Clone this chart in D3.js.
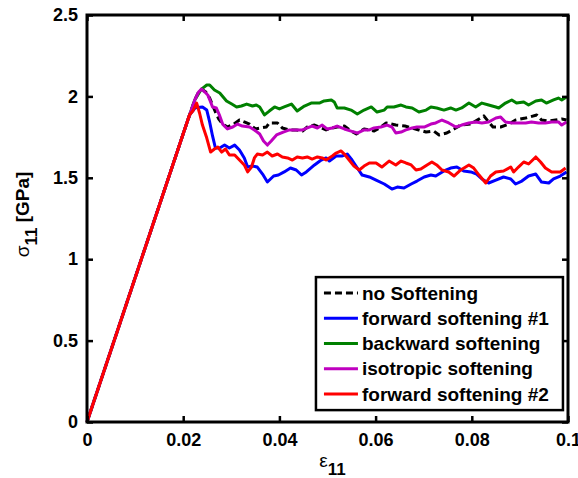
<!DOCTYPE html>
<html>
<head>
<meta charset="utf-8">
<script src="https://cdn.jsdelivr.net/npm/d3@7"></script>
<style>
  body { margin: 0; background: #fff; }
  svg text { font-family: "Liberation Sans", Arial, Helvetica, sans-serif; }
</style>
</head>
<body>
<svg id="canvas" width="578" height="478"></svg>
<script>
// strain / stress pairs [eps11, sigma11 (GPa)]
const noSoftening = [
  [0, 0], [0.0200, 1.770], [0.0224, 1.978], [0.0232, 2.027], [0.0238, 2.045], [0.0247, 2.027],
  [0.0255, 1.990], [0.0261, 1.947], [0.0267, 1.904], [0.0274, 1.861], [0.0282, 1.830],
  [0.0292, 1.812], [0.0305, 1.830], [0.0317, 1.855], [0.0327, 1.843], [0.0338, 1.830],
  [0.0350, 1.800], [0.0361, 1.806], [0.0373, 1.812], [0.0379, 1.837], [0.0396, 1.837],
  [0.0406, 1.806], [0.0421, 1.794], [0.0435, 1.794], [0.0448, 1.787], [0.0458, 1.812],
  [0.0473, 1.824], [0.0483, 1.812], [0.0497, 1.794], [0.0510, 1.806], [0.0520, 1.812],
  [0.0535, 1.818], [0.0549, 1.787], [0.0560, 1.769], [0.0576, 1.800], [0.0597, 1.787],
  [0.0611, 1.812], [0.0622, 1.837], [0.0642, 1.824], [0.0661, 1.818], [0.0676, 1.806],
  [0.0690, 1.794], [0.0705, 1.781], [0.0721, 1.787], [0.0732, 1.763], [0.0748, 1.775],
  [0.0763, 1.800], [0.0777, 1.824], [0.0798, 1.830], [0.0815, 1.861], [0.0825, 1.880],
  [0.0835, 1.843], [0.0844, 1.812], [0.0860, 1.812], [0.0877, 1.830], [0.0891, 1.855],
  [0.0912, 1.867], [0.0935, 1.886], [0.0945, 1.855], [0.0960, 1.849], [0.0974, 1.855],
  [0.0987, 1.861], [0.0997, 1.855]
];

const forwardSoftening1 = [
  [0, 0], [0.0200, 1.770], [0.0213, 1.886], [0.0225, 1.930], [0.0240, 1.935], [0.0249, 1.916],
  [0.0255, 1.843], [0.0261, 1.757], [0.0267, 1.683], [0.0276, 1.683], [0.0286, 1.701],
  [0.0296, 1.683], [0.0307, 1.701], [0.0317, 1.671], [0.0327, 1.622], [0.0334, 1.566],
  [0.0344, 1.572], [0.0354, 1.566], [0.0365, 1.523], [0.0375, 1.474], [0.0388, 1.511],
  [0.0398, 1.517], [0.0410, 1.536], [0.0423, 1.560], [0.0435, 1.548], [0.0446, 1.517],
  [0.0456, 1.536], [0.0473, 1.579], [0.0487, 1.609], [0.0497, 1.622], [0.0504, 1.603],
  [0.0518, 1.634], [0.0531, 1.634], [0.0541, 1.646], [0.0551, 1.609], [0.0562, 1.560],
  [0.0572, 1.517], [0.0587, 1.505], [0.0601, 1.486], [0.0618, 1.462], [0.0634, 1.431],
  [0.0645, 1.443], [0.0659, 1.437], [0.0674, 1.462], [0.0686, 1.480], [0.0701, 1.505],
  [0.0715, 1.517], [0.0725, 1.511], [0.0742, 1.542], [0.0756, 1.560], [0.0769, 1.566],
  [0.0783, 1.542], [0.0798, 1.536], [0.0810, 1.523], [0.0821, 1.493], [0.0835, 1.468],
  [0.0850, 1.486], [0.0866, 1.505], [0.0881, 1.493], [0.0891, 1.462], [0.0904, 1.480],
  [0.0918, 1.511], [0.0933, 1.523], [0.0945, 1.474], [0.0960, 1.468], [0.0970, 1.493],
  [0.0984, 1.511], [0.0997, 1.536]
];

const backwardSoftening = [
  [0, 0], [0.0200, 1.770], [0.0224, 1.978], [0.0238, 2.045], [0.0249, 2.070], [0.0255, 2.070],
  [0.0265, 2.039], [0.0276, 2.021], [0.0290, 1.972], [0.0301, 1.953], [0.0311, 1.935],
  [0.0321, 1.941], [0.0332, 1.953], [0.0344, 1.941], [0.0352, 1.947], [0.0359, 1.935],
  [0.0369, 1.886], [0.0379, 1.910], [0.0390, 1.935], [0.0400, 1.923], [0.0410, 1.935],
  [0.0425, 1.953], [0.0437, 1.910], [0.0452, 1.941], [0.0466, 1.959], [0.0483, 1.959],
  [0.0493, 1.972], [0.0508, 1.978], [0.0514, 1.966], [0.0520, 1.929], [0.0535, 1.929],
  [0.0549, 1.916], [0.0562, 1.892], [0.0576, 1.916], [0.0591, 1.935], [0.0603, 1.904],
  [0.0618, 1.916], [0.0624, 1.935], [0.0638, 1.935], [0.0653, 1.947], [0.0663, 1.935],
  [0.0676, 1.929], [0.0690, 1.904], [0.0705, 1.916], [0.0715, 1.935], [0.0727, 1.929],
  [0.0742, 1.916], [0.0756, 1.929], [0.0767, 1.916], [0.0779, 1.929], [0.0794, 1.959],
  [0.0808, 1.935], [0.0821, 1.959], [0.0835, 1.947], [0.0850, 1.935], [0.0856, 1.929],
  [0.0870, 1.959], [0.0883, 1.978], [0.0893, 1.959], [0.0908, 1.966], [0.0918, 1.947],
  [0.0933, 1.972], [0.0945, 1.978], [0.0955, 1.959], [0.0970, 1.978], [0.0980, 1.990],
  [0.0987, 1.978], [0.0997, 1.996]
];

const isotropicSoftening = [
  [0, 0], [0.0200, 1.770], [0.0224, 1.978], [0.0232, 2.027], [0.0238, 2.045], [0.0245, 2.027],
  [0.0251, 2.009], [0.0257, 1.966], [0.0261, 1.935], [0.0269, 1.929], [0.0276, 1.880],
  [0.0282, 1.830], [0.0292, 1.800], [0.0303, 1.812], [0.0313, 1.830], [0.0323, 1.818],
  [0.0338, 1.812], [0.0348, 1.794], [0.0359, 1.769], [0.0367, 1.726], [0.0375, 1.701],
  [0.0383, 1.726], [0.0394, 1.763], [0.0408, 1.781], [0.0421, 1.794], [0.0435, 1.794],
  [0.0448, 1.794], [0.0458, 1.806], [0.0468, 1.818], [0.0479, 1.806], [0.0489, 1.824],
  [0.0499, 1.800], [0.0510, 1.806], [0.0520, 1.818], [0.0535, 1.800], [0.0549, 1.787],
  [0.0562, 1.775], [0.0576, 1.794], [0.0587, 1.794], [0.0597, 1.806], [0.0611, 1.812],
  [0.0624, 1.824], [0.0634, 1.812], [0.0642, 1.775], [0.0653, 1.781], [0.0663, 1.794],
  [0.0676, 1.806], [0.0686, 1.812], [0.0701, 1.812], [0.0715, 1.830], [0.0725, 1.837],
  [0.0738, 1.855], [0.0752, 1.837], [0.0767, 1.812], [0.0779, 1.824], [0.0794, 1.837],
  [0.0808, 1.843], [0.0821, 1.837], [0.0835, 1.843], [0.0850, 1.867], [0.0860, 1.873],
  [0.0870, 1.843], [0.0883, 1.837], [0.0897, 1.837], [0.0912, 1.837], [0.0924, 1.843],
  [0.0939, 1.837], [0.0953, 1.837], [0.0966, 1.843], [0.0980, 1.843], [0.0987, 1.824],
  [0.0997, 1.843]
];

const forwardSoftening2 = [
  [0, 0], [0.0200, 1.770], [0.0213, 1.886], [0.0220, 1.910], [0.0228, 1.959], [0.0234, 1.898],
  [0.0240, 1.824], [0.0249, 1.744], [0.0257, 1.658], [0.0265, 1.677], [0.0272, 1.689],
  [0.0280, 1.658], [0.0288, 1.677], [0.0296, 1.640], [0.0307, 1.640], [0.0317, 1.609],
  [0.0327, 1.579], [0.0334, 1.536], [0.0342, 1.566], [0.0348, 1.622], [0.0354, 1.646],
  [0.0365, 1.640], [0.0375, 1.658], [0.0385, 1.634], [0.0396, 1.646], [0.0406, 1.628],
  [0.0417, 1.622], [0.0427, 1.609], [0.0437, 1.628], [0.0448, 1.622], [0.0458, 1.628],
  [0.0468, 1.615], [0.0479, 1.628], [0.0489, 1.622], [0.0497, 1.609], [0.0510, 1.634],
  [0.0518, 1.652], [0.0528, 1.665], [0.0535, 1.646], [0.0545, 1.609], [0.0555, 1.572],
  [0.0566, 1.548], [0.0576, 1.572], [0.0587, 1.591], [0.0601, 1.591], [0.0613, 1.566],
  [0.0628, 1.603], [0.0642, 1.579], [0.0653, 1.603], [0.0663, 1.591], [0.0674, 1.579],
  [0.0684, 1.548], [0.0694, 1.554], [0.0707, 1.579], [0.0717, 1.597], [0.0727, 1.579],
  [0.0738, 1.548], [0.0752, 1.536], [0.0763, 1.511], [0.0777, 1.548], [0.0794, 1.579],
  [0.0804, 1.560], [0.0815, 1.517], [0.0829, 1.468], [0.0839, 1.511], [0.0850, 1.536],
  [0.0866, 1.542], [0.0881, 1.566], [0.0887, 1.536], [0.0897, 1.566], [0.0908, 1.597],
  [0.0918, 1.585], [0.0933, 1.628], [0.0943, 1.597], [0.0953, 1.560], [0.0966, 1.536],
  [0.0984, 1.536], [0.0995, 1.560]
];

const seriesNames = ['no Softening', 'forward softening #1', 'backward softening',
                     'isotropic softening', 'forward softening #2'];
const xTicks = [0, 0.02, 0.04, 0.06, 0.08, 0.1];
const yTicks = [0, 0.5, 1, 1.5, 2, 2.5];

// looks
const colors = ['#000000', '#0000ff', '#008000', '#bf00bf', '#ff0000'];
const dashes = ['7,4', null, null, null, null];

// margins & dimensions
const margin = { top: 15, right: 10, bottom: 56, left: 87 };
const width = 578 - margin.left - margin.right;
const height = 478 - margin.top - margin.bottom;

const svg = d3.select('#canvas')
  .append('g')
    .attr('transform', `translate(${margin.left},${margin.top})`);

const xScale = d3.scaleLinear().domain([0, 0.1]).range([0, width]);
const yScale = d3.scaleLinear().domain([0, 2.5]).range([height, 0]);
const fmt = d => String(d);

// curves (legend order, red ends up on top)
const allSeries = [noSoftening, forwardSoftening1, backwardSoftening,
                   isotropicSoftening, forwardSoftening2];
const lineGen = d3.line()
  .x(d => xScale(d[0]))
  .y(d => yScale(d[1]));

svg.append('g')
  .selectAll('path')
  .data(allSeries)
  .join('path')
    .attr('d', lineGen)
    .attr('fill', 'none')
    .attr('stroke', (d, i) => colors[i])
    .attr('stroke-width', 3)
    .attr('stroke-linejoin', 'round')
    .attr('stroke-dasharray', (d, i) => dashes[i]);

// axes, ticks pointing inward on all four sides
function styleAxis(g) {
  g.select('.domain').remove();
  g.selectAll('line').attr('stroke', '#000').attr('stroke-width', 2.5);
  g.selectAll('text')
    .attr('fill', '#000')
    .style('font-size', '18px')
    .style('font-weight', 'bold');
}

svg.append('g')
  .attr('transform', `translate(0,${height})`)
  .call(d3.axisBottom(xScale).tickValues(xTicks).tickFormat(fmt)
    .tickSizeInner(-6).tickSizeOuter(0).tickPadding(11))
  .call(styleAxis);

svg.append('g')
  .call(d3.axisLeft(yScale).tickValues(yTicks).tickFormat(fmt)
    .tickSizeInner(-6).tickSizeOuter(0).tickPadding(9))
  .call(styleAxis);

svg.append('g')
  .call(d3.axisTop(xScale).tickValues(xTicks).tickFormat('')
    .tickSizeInner(-6).tickSizeOuter(0))
  .call(styleAxis);

svg.append('g')
  .attr('transform', `translate(${width},0)`)
  .call(d3.axisRight(yScale).tickValues(yTicks).tickFormat('')
    .tickSizeInner(-6).tickSizeOuter(0))
  .call(styleAxis);

svg.append('rect')
  .attr('width', width)
  .attr('height', height)
  .attr('fill', 'none')
  .attr('stroke', '#000')
  .attr('stroke-width', 3);

// axis labels
const xLab = svg.append('text')
  .attr('x', width / 2 + 5)
  .attr('y', height + 45)
  .attr('text-anchor', 'middle')
  .style('font-size', '19px');
xLab.append('tspan').text('ε');
xLab.append('tspan').attr('dy', 8).style('font-weight', 'bold').style('font-size', '17px').text('11');

const yLab = svg.append('text')
  .attr('transform', `translate(${-58},${height / 2 - 4}) rotate(-90)`)
  .attr('text-anchor', 'middle')
  .style('font-size', '19px');
yLab.append('tspan').text('σ');
yLab.append('tspan').attr('dy', 8).style('font-weight', 'bold').style('font-size', '17px').text('11');
yLab.append('tspan').attr('dy', -8).style('font-weight', 'bold').text(' [GPa]');

// legend
const legend = svg.append('g')
  .attr('transform', `translate(${xScale(0.0476)},${yScale(0.89)})`);

legend.append('rect')
  .attr('width', 247)
  .attr('height', 133)
  .attr('fill', '#fff')
  .attr('stroke', '#000')
  .attr('stroke-width', 2.5);

const rows = legend.selectAll('g.row')
  .data(seriesNames)
  .join('g')
    .attr('class', 'row')
    .attr('transform', (d, i) => `translate(0,${16 + i * 25.2})`);

rows.append('line')
  .attr('x1', 8).attr('x2', 42)
  .attr('stroke', (d, i) => colors[i])
  .attr('stroke-width', 3)
  .attr('stroke-dasharray', (d, i) => dashes[i]);

rows.append('text')
  .attr('x', 46)
  .attr('dy', '0.35em')
  .style('font-size', '19px')
  .style('font-weight', 'bold')
  .text(d => d);
</script>
</body>
</html>
